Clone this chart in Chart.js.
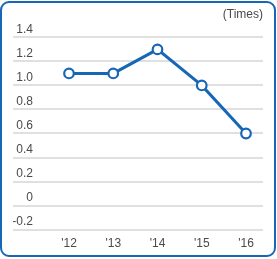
<!DOCTYPE html>
<html><head><meta charset="utf-8">
<script src="https://cdn.jsdelivr.net/npm/chart.js@4/dist/chart.umd.min.js"></script>
<style>
html,body{margin:0;padding:0;background:#fff;}
#wrap{position:relative;width:277px;height:259px;}
#frame{position:absolute;left:0;top:1px;width:272px;height:252px;border:2px solid #1767b6;border-radius:9px;pointer-events:none;}
canvas{position:absolute;left:0;top:0;}
</style></head>
<body><div id="wrap"><canvas id="c" width="277" height="259"></canvas><div id="frame"></div></div>
<script>
const categories = ["'12", "'13", "'14", "'15", "'16"];
const values = [1.1, 1.1, 1.3, 1.0, 0.6];
const unitLabel = "(Times)";
const yMin = -0.2, yMax = 1.4, yStep = 0.2;

const blue = '#1767b6';
const gridColor = '#e0e0e0';
const font = {family: '"Liberation Sans", Arial, sans-serif', size: 12, weight: 'normal'};

new Chart(document.getElementById('c'), {
  type: 'line',
  data: {
    datasets: [{
      data: values.map((v, i) => ({x: i, y: v})),
      borderColor: blue,
      borderWidth: 3,
      pointRadius: 4.8,
      pointBorderWidth: 2.2,
      pointBackgroundColor: '#fff',
      pointBorderColor: blue,
      tension: 0
    }]
  },
  options: {
    responsive: false,
    animation: false,
    events: [],
    layout: {padding: {top: 0, left: 13, right: 14, bottom: 1}},
    plugins: {
      legend: {display: false},
      tooltip: {enabled: false},
      title: {
        display: true, text: unitLabel, align: 'end',
        color: '#4a4a4a', font: font,
        padding: {top: 7, bottom: 16}
      }
    },
    scales: {
      x: {
        type: 'linear',
        min: -0.497, max: 4.384,
        afterBuildTicks: s => { s.ticks = categories.map((c, i) => ({value: i})); },
        ticks: {
          color: '#4a4a4a', font: font, padding: 7,
          callback: (v) => categories[v] ?? ''
        },
        grid: {display: false, drawTicks: false},
        border: {display: false}
      },
      y: {
        min: yMin, max: yMax,
        afterBuildTicks: s => {
          const t = [];
          for (let k = 0; k <= Math.round((yMax - yMin) / yStep); k++) t.push({value: +(yMin + k * yStep).toFixed(1)});
          s.ticks = t;
        },
        afterFit: s => { s.width = 34; },
        ticks: {
          color: '#4a4a4a', font: font, padding: -20, labelOffset: -8,
          callback: v => (Math.abs(v) < 1e-9 ? '0' : v.toFixed(1))
        },
        grid: {color: gridColor, lineWidth: 2, tickLength: 34, tickColor: gridColor, tickWidth: 2},
        border: {display: false}
      }
    }
  }
});
</script></body></html>
